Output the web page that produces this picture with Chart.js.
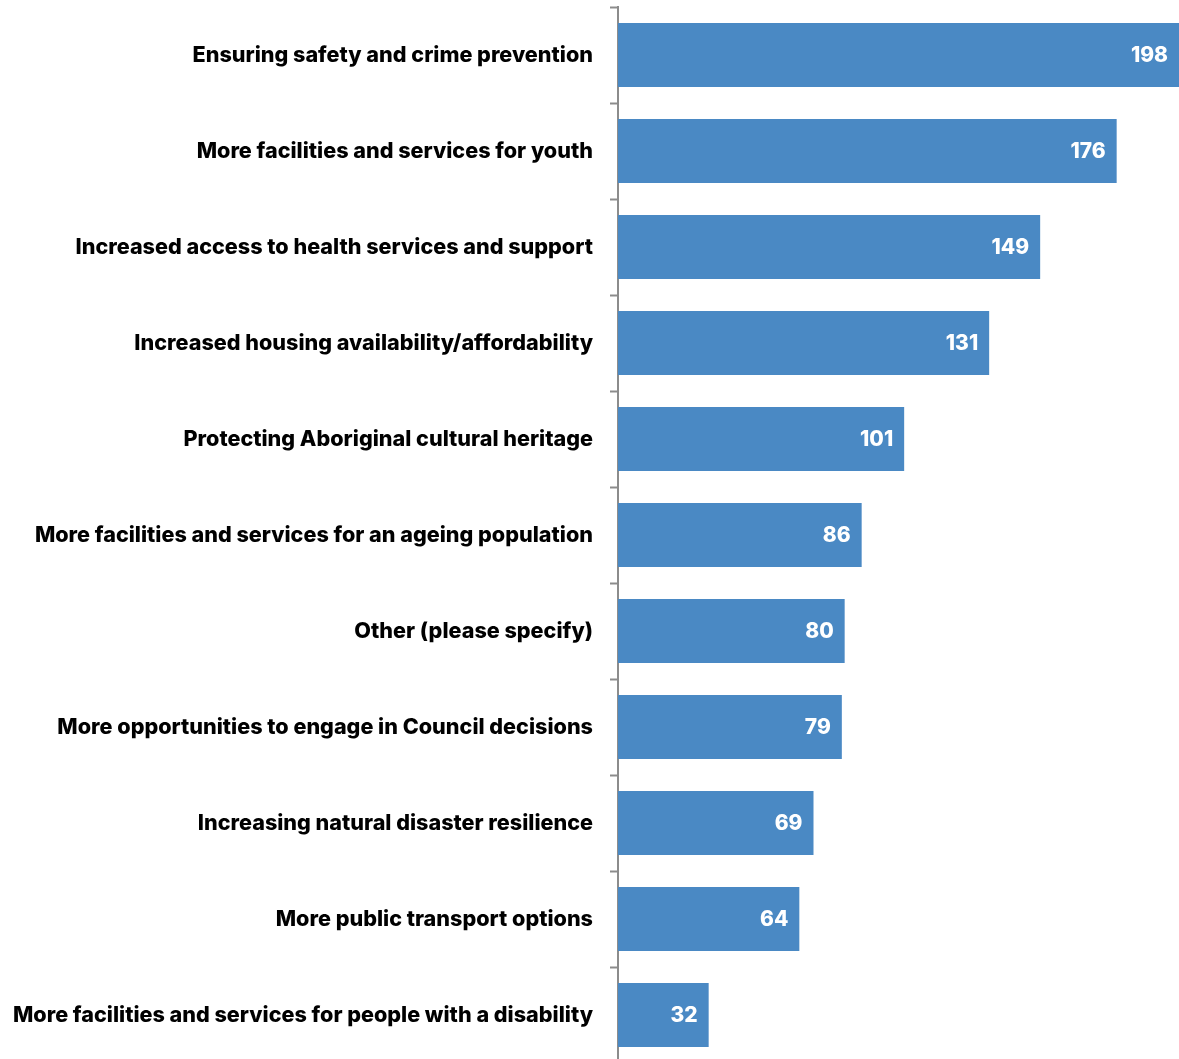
<!DOCTYPE html>
<html>
<head>
<meta charset="utf-8">
<script src="https://cdn.jsdelivr.net/npm/chart.js@4.4.1/dist/chart.umd.min.js"></script>
<style>
  html, body { margin: 0; padding: 0; background: #fff; overflow: hidden; }
  #wrap { position: relative; width: 1179px; height: 1063px; }
</style>
</head>
<body>
<div id="wrap"><canvas id="chart"></canvas></div>
<script>
// categories and counts, top to bottom
const categories = [
    'Ensuring safety and crime prevention',
    'More facilities and services for youth',
    'Increased access to health services and support',
    'Increased housing availability/affordability',
    'Protecting Aboriginal cultural heritage',
    'More facilities and services for an ageing population',
    'Other (please specify)',
    'More opportunities to engage in Council decisions',
    'Increasing natural disaster resilience',
    'More public transport options',
    'More facilities and services for people with a disability'
];
const counts = [198, 176, 149, 131, 101, 86, 80, 79, 69, 64, 32];

const barColor = '#4a89c4';
const axisColor = '#8c8c8c';
const fontFamily = 'Inter, "Noto Sans", sans-serif';

// white value labels drawn inside the end of each bar
const valueLabels = {
    id: 'valueLabels',
    afterDatasetsDraw(chart) {
        const ctx = chart.ctx;
        const meta = chart.getDatasetMeta(0);
        ctx.save();
        ctx.fillStyle = '#ffffff';
        ctx.font = `800 21px ${fontFamily}`;
        ctx.textAlign = 'right';
        ctx.textBaseline = 'middle';
        meta.data.forEach((bar, i) => {
            ctx.fillText(String(counts[i]), bar.x - 11, bar.y + 1);
        });
        ctx.restore();
    }
};

new Chart(document.getElementById('chart'), {
    type: 'bar',
    data: {
        labels: categories,
        datasets: [{
            data: counts,
            backgroundColor: barColor,
            categoryPercentage: 1,
            barPercentage: 0.667,
            borderWidth: 0
        }]
    },
    options: {
        indexAxis: 'y',
        responsive: true,
        maintainAspectRatio: false,
        animation: false,
        layout: { padding: { top: 7, right: 0, bottom: 0, left: 0 } },
        plugins: {
            legend: { display: false },
            tooltip: { enabled: false }
        },
        scales: {
            x: {
                display: false,
                min: 0,
                max: 198
            },
            y: {
                afterFit(scale) {
                    scale.width = 618;
                    // tick padding would otherwise shrink the plot vertically
                    scale.paddingTop = 0;
                    scale.paddingBottom = 0;
                },
                border: { display: true, color: axisColor, width: 2 },
                grid: {
                    drawOnChartArea: false,
                    drawTicks: true,
                    tickLength: 8,
                    tickWidth: 2,
                    color: axisColor
                },
                ticks: {
                    color: '#000000',
                    padding: 17,
                    autoSkip: false,
                    font: { family: fontFamily, size: 21.6, weight: '800' }
                }
            }
        }
    },
    plugins: [valueLabels]
});
</script>
</body>
</html>
